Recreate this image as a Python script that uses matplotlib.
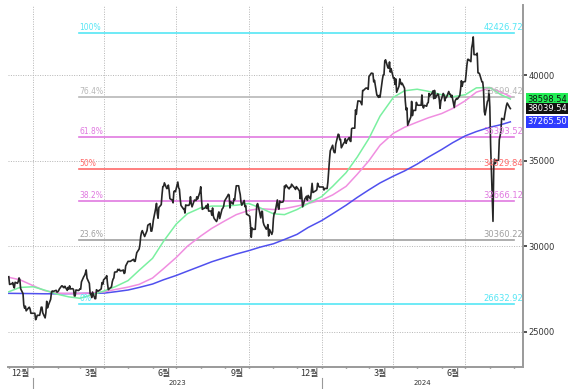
import matplotlib
matplotlib.use('Agg')
import matplotlib.pyplot as plt
import matplotlib.transforms as mtransforms
import pandas as pd

plt.rcParams['font.family'] = ['Noto Sans CJK KR', 'DejaVu Sans']

# ---------------- daily closes (business days of each month) ----------------
close_2022_12 = [28226, 27777, 27820, 27885, 27686, 27574, 27901, 27842, 27954, 28156, 28051,
                 27527, 27237, 26568, 26387, 26507, 26235, 26405, 26447, 26340, 26093, 26094]
close_2023_01 = [26094, 26094, 25717, 25820, 25974, 25974, 26175, 26446, 26449, 26120, 25822,
                 26138, 26791, 26405, 26553, 26906, 27299, 27395, 27362, 27382, 27433, 27327]
close_2023_02 = [27346, 27402, 27509, 27693, 27685, 27606, 27584, 27670, 27427, 27602, 27501,
                 27696, 27513, 27531, 27473, 27104, 27104, 27453, 27423, 27445]
close_2023_03 = [27516, 27498, 27927, 28237, 28309, 28444, 28623, 28143, 27832, 27222, 27229,
                 27010, 27333, 26945, 26945, 27466, 27419, 27385, 27476, 27518, 27883, 27782, 28041]
close_2023_04 = [28188, 28287, 27813, 27472, 27518, 27633, 27923, 28082, 28156, 28493, 28515,
                 28658, 28606, 28657, 28564, 28593, 28620, 28416, 28457, 28856]
close_2023_05 = [29123, 29123, 29123, 29123, 29157, 29242, 29123, 29126, 29388, 29626, 29842,
                 30093, 30573, 30808, 30916, 30573, 30682, 30801, 30916, 31233, 31328, 30887, 30888]
close_2023_06 = [31148, 31524, 32217, 32506, 31914, 31641, 32265, 32434, 33018, 33485, 33502,
                 33706, 33370, 33388, 33575, 33264, 32782, 32698, 32538, 33194, 33234, 33189]
close_2023_07 = [33753, 33422, 33338, 32773, 32388, 32189, 32203, 31943, 32419, 32391, 32391,
                 32493, 32896, 32490, 32304, 32700, 32682, 32668, 32891, 32759, 33172]
close_2023_08 = [33476, 32707, 32159, 32192, 32254, 32377, 32204, 32473, 32059, 32059, 31819,
                 32238, 31766, 31626, 31450, 31565, 31856, 32010, 31624, 32169, 32227, 32333, 32619]
close_2023_09 = [32710, 32939, 33036, 32991, 32241, 32606, 32467, 32776, 32706, 33168, 33533,
                 33533, 33242, 33023, 32571, 32402, 32678, 32315, 32372, 31872, 31857]
close_2023_10 = [31759, 31237, 30526, 31075, 30994, 30994, 31746, 32404, 32494, 32315, 31659,
                 32040, 32042, 31430, 31259, 30999, 31062, 31269, 30601, 30991, 30697, 30859]
close_2023_11 = [31601, 31950, 31950, 32708, 32272, 32166, 32647, 32568, 32586, 32696, 33520,
                 33424, 33585, 33388, 33354, 33452, 33452, 33626, 33447, 33408, 33321, 33486]
close_2023_12 = [33431, 33231, 32775, 33445, 32858, 32307, 32791, 32843, 32926, 32686, 32970,
                 32758, 33219, 33675, 33141, 33169, 33255, 33305, 33681, 33540, 33464]
close_2024_01 = [33464, 33464, 33464, 33288, 33377, 33377, 33763, 34441, 35049, 35577, 35901,
                 35619, 35477, 35466, 35963, 36546, 36517, 36226, 36236, 35751, 36026, 36065, 36286]
close_2024_02 = [36011, 36158, 36354, 36160, 36119, 36863, 36897, 36897, 37963, 37703, 38157,
                 38487, 38470, 38364, 38262, 39098, 39098, 39233, 39239, 39208, 39166]
close_2024_03 = [39910, 40109, 40097, 40090, 39598, 39688, 38820, 38797, 38695, 38807, 38707,
                 39740, 40003, 40003, 40815, 40888, 40414, 40398, 40762, 40168, 40369]
close_2024_04 = [39803, 39838, 39451, 39773, 38992, 39347, 39773, 39581, 39442, 39523, 39232,
                 38471, 37962, 38079, 37068, 37438, 37552, 38460, 37628, 37934, 37934, 38405]
close_2024_05 = [38274, 38236, 38236, 38236, 38835, 38202, 38073, 38229, 38179, 38356, 38385,
                 38920, 38787, 38946, 39070, 38617, 39103, 38646, 38900, 38855, 38556, 38054, 38487]
close_2024_06 = [38923, 38837, 38490, 38703, 38683, 39038, 38885, 38876, 38720, 38814, 38102,
                 38482, 38570, 38633, 38596, 38804, 39173, 39667, 39341, 39583]
close_2024_07 = [39631, 40074, 40580, 40913, 40912, 40780, 41580, 41831, 42224, 41190, 41190,
                 41275, 40126, 40126, 40063, 39599, 39594, 39154, 37869, 37667, 38468, 38525, 39101]
close_2024_08 = [38126, 35909, 31458, 34675, 35089, 34831, 35025, 35025, 36232, 36442, 36726,
                 37471, 37388, 37704, 37951, 38211, 38364, 38110, 38039.54]

monthly_closes = [
    ('2022-12', close_2022_12), ('2023-01', close_2023_01), ('2023-02', close_2023_02),
    ('2023-03', close_2023_03), ('2023-04', close_2023_04), ('2023-05', close_2023_05),
    ('2023-06', close_2023_06), ('2023-07', close_2023_07), ('2023-08', close_2023_08),
    ('2023-09', close_2023_09), ('2023-10', close_2023_10), ('2023-11', close_2023_11),
    ('2023-12', close_2023_12), ('2024-01', close_2024_01), ('2024-02', close_2024_02),
    ('2024-03', close_2024_03), ('2024-04', close_2024_04), ('2024-05', close_2024_05),
    ('2024-06', close_2024_06), ('2024-07', close_2024_07), ('2024-08', close_2024_08),
]

# ---------------- moving averages (read semi-monthly) ----------------
ma_dates = ['2022-12-01', '2022-12-15', '2023-01-01', '2023-01-15', '2023-02-01', '2023-02-15',
            '2023-03-01', '2023-03-15', '2023-04-01', '2023-04-15', '2023-05-01', '2023-05-15',
            '2023-06-01', '2023-06-15', '2023-07-01', '2023-07-15', '2023-08-01', '2023-08-15',
            '2023-09-01', '2023-09-15', '2023-10-01', '2023-10-15', '2023-11-01', '2023-11-15',
            '2023-12-01', '2023-12-15', '2024-01-01', '2024-01-15', '2024-02-01', '2024-02-15',
            '2024-03-01', '2024-03-15', '2024-04-01', '2024-04-15', '2024-05-01', '2024-05-15',
            '2024-06-01', '2024-06-15', '2024-07-01', '2024-07-15', '2024-08-01', '2024-08-15',
            '2024-08-27']
ma_green = [27350, 27600, 27640, 27450, 27200, 27050, 26970, 27150, 27400, 27650, 28000, 28600,
            29300, 30300, 31300, 31900, 32250, 32350, 32350, 32400, 32500, 32250, 31900, 31850,
            32150, 32500, 32900, 33500, 34300, 35200, 36300, 37600, 38700, 39080, 39170, 39050,
            38850, 38730, 38850, 39250, 39270, 38850, 38598.54]
ma_pink = [28190, 28050, 27700, 27420, 27270, 27250, 27250, 27280, 27350, 27480, 27620, 27780,
           28150, 28700, 29350, 30000, 30600, 31050, 31500, 31850, 32100, 32200, 32150, 32200,
           32350, 32500, 32700, 33000, 33500, 34200, 35000, 35900, 36600, 36950, 37250, 37500,
           37750, 38050, 38500, 39000, 39250, 39000, 38750]
ma_blue = [27256, 27250, 27240, 27230, 27230, 27240, 27250, 27260, 27270, 27350, 27450, 27600,
           27800, 28050, 28300, 28550, 28850, 29100, 29350, 29550, 29750, 29950, 30150, 30400,
           30700, 31100, 31500, 31900, 32400, 32850, 33300, 33700, 34100, 34400, 34800, 35200,
           35650, 36050, 36450, 36700, 36950, 37100, 37265.50]

# ---------------- Fibonacci retracement ----------------
fib_pct = ['0%', '23.6%', '38.2%', '50%', '61.8%', '76.4%', '100%']
fib_values = [26632.92, 30360.22, 32666.12, 34529.84, 36393.52, 38699.42, 42426.72]
fib_colors = ['#55e6f5', '#a0a0a0', '#e07ae0', '#ff6a6a', '#e07ae0', '#b8b8b8', '#55e6f5']
fib_start = '2023-02-28'
fib_end = '2024-08-31'

# right-side value tags
tag_values = [38598.54, 38039.54, 37265.50]
tag_bg = ['#22ee55', '#111111', '#2f3cff']
tag_fg = ['#111111', '#ffffff', '#ffffff']

# ---------------- build series ----------------
dates, closes = [], []
for ym, vals in monthly_closes:
    start = pd.Timestamp(ym + '-01')
    days = pd.bdate_range(start, start + pd.offsets.MonthEnd(0))
    for d, v in zip(days, vals):
        dates.append(d)
        closes.append(v)
dates = pd.DatetimeIndex(dates)
ma_idx = pd.to_datetime(ma_dates)

fig = plt.figure(figsize=(5.68, 3.89), dpi=100)
ax = fig.add_axes([8 / 568, 22 / 389, 515 / 568, 362 / 389])

x_left = pd.Timestamp('2022-11-30')
x_right = pd.Timestamp('2024-09-12')
ax.set_xlim(x_left, x_right)
ax.set_ylim(22957, 44086)

# grid
for yv in [25000, 30000, 35000, 40000]:
    ax.axhline(yv, color='#b5b5b5', lw=0.7, ls=(0, (1, 1.5)), zorder=0)
quarters = pd.to_datetime(['2023-01-01', '2023-04-01', '2023-07-01', '2023-10-01',
                           '2024-01-01', '2024-04-01', '2024-07-01'])
for q in quarters:
    ax.axvline(q, color='#b5b5b5', lw=0.7, ls=(0, (1, 1.5)), zorder=0)

# fib lines
ytrans = mtransforms.blended_transform_factory(ax.transAxes, ax.transData)
for val, pct, col in zip(fib_values, fib_pct, fib_colors):
    ax.plot([pd.Timestamp(fib_start), pd.Timestamp(fib_end)], [val, val], color=col, lw=1.2, zorder=1)
    ax.text(pd.Timestamp(fib_start), val + 60, pct, color=col, fontsize=5.5,
            ha='left', va='bottom', family='DejaVu Sans', zorder=5)
    ax.text(1.0, val + 60, f'{val:.2f}', color=col, fontsize=6, ha='right', va='bottom',
            transform=ytrans, family='DejaVu Sans', zorder=5, clip_on=True)

# moving averages
ax.plot(ma_idx, ma_blue, color='#5050ee', lw=1.1, zorder=2)
ax.plot(ma_idx, ma_pink, color='#f08ee0', lw=1.1, zorder=2)
ax.plot(ma_idx, ma_green, color='#7af0a0', lw=1.1, zorder=2)

# price
ax.plot(dates, closes, color='#262626', lw=1.2, zorder=3)

# axes styling
for s in ['left', 'top']:
    ax.spines[s].set_visible(False)
for s in ['right', 'bottom']:
    ax.spines[s].set_color('#9a9a9a')
    ax.spines[s].set_linewidth(1.4)

ax.yaxis.tick_right()
ax.set_yticks([25000, 30000, 35000, 40000])
ax.set_yticklabels(['25000', '30000', '35000', '40000'], family='DejaVu Sans')
ax.tick_params(axis='y', labelsize=6, colors='#333333', length=3, width=1.2, pad=1)

month_starts = pd.date_range('2022-12-01', '2024-09-01', freq='MS')
ax.set_xticks(month_starts)
ax.set_xticklabels([])
ax.tick_params(axis='x', length=2, width=1, color='#555555', direction='inout')

xtrans = mtransforms.blended_transform_factory(ax.transData, ax.transAxes)
month_labels = [('2022-12-16', '12월'), ('2023-03-16', '3월'), ('2023-06-16', '6월'),
                ('2023-09-16', '9월'), ('2023-12-16', '12월'), ('2024-03-16', '3월'),
                ('2024-06-16', '6월')]
for d, lab in month_labels:
    ax.text(pd.Timestamp(d), -0.017, lab, transform=xtrans, fontsize=6.5, ha='center',
            va='center', color='#333333')
year_labels = [('2023-07-02', '2023'), ('2024-05-07', '2024')]
for d, lab in year_labels:
    ax.text(pd.Timestamp(d), -0.045, lab, transform=xtrans, fontsize=5, ha='center',
            va='center', color='#333333', family='DejaVu Sans')
for d in ['2023-01-01', '2024-01-01']:
    ax.plot([pd.Timestamp(d)] * 2, [-0.03, -0.065], transform=xtrans, color='#999999',
            lw=0.8, clip_on=False)

# value tags on right
for v, bg, fg in zip(tag_values, tag_bg, tag_fg):
    ax.text(1.008, v, f'{v:.2f}', transform=ytrans, fontsize=6, ha='left', va='center',
            color=fg, family='DejaVu Sans',
            bbox=dict(boxstyle='square,pad=0.15', fc=bg, ec='none'), zorder=6)

fig.savefig('out.png', dpi=100)
